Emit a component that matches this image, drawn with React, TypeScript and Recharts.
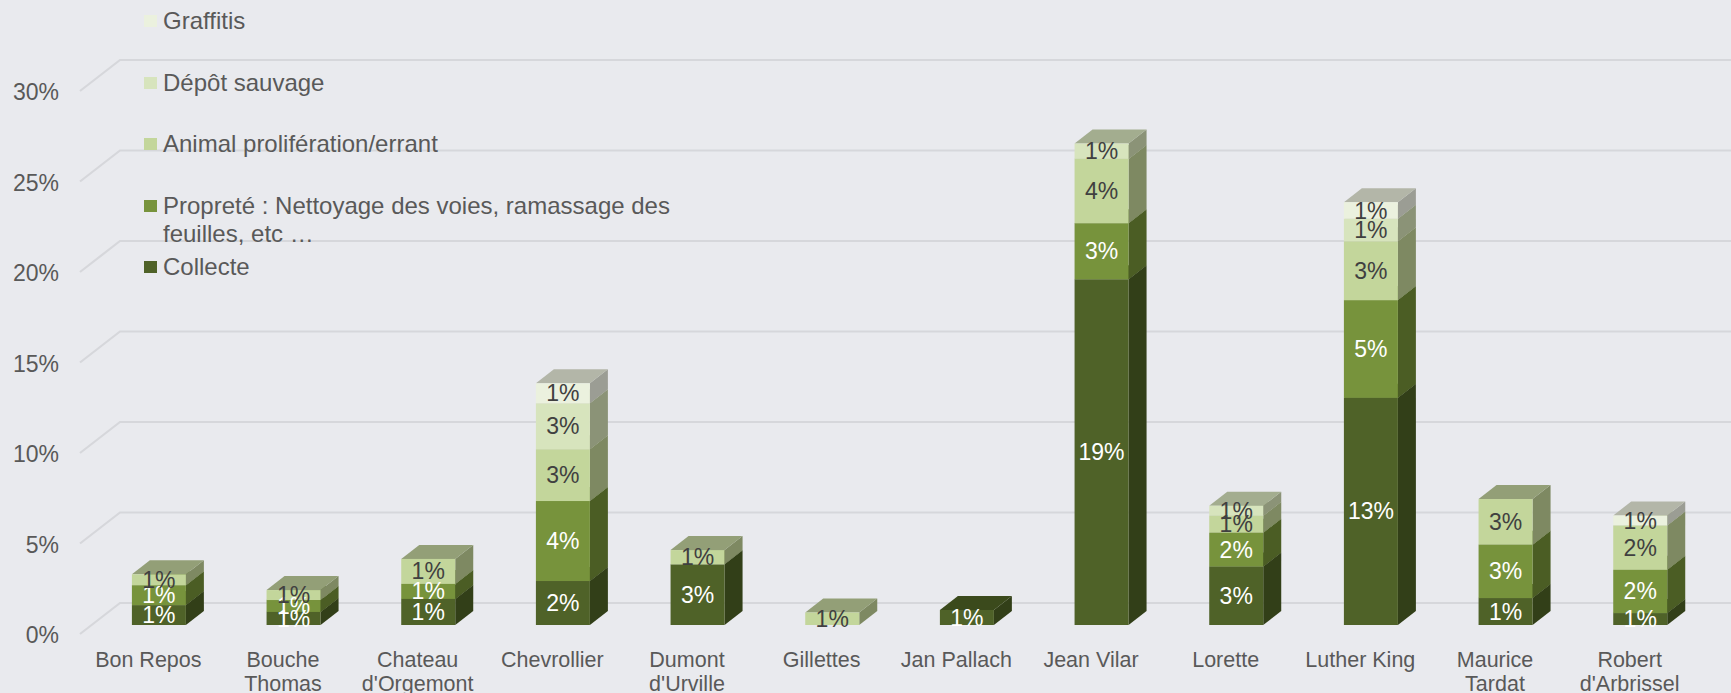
import React from "react";
import { BarChart, Bar, XAxis, YAxis, CartesianGrid, LabelList } from "recharts";

// ---------- data ----------
const categories = [
  "Bon Repos",
  "Bouche Thomas",
  "Chateau d'Orgemont",
  "Chevrollier",
  "Dumont d'Urville",
  "Gillettes",
  "Jan Pallach",
  "Jean Vilar",
  "Lorette",
  "Luther King",
  "Maurice Tardat",
  "Robert d'Arbrissel",
];

const collecte = [1.1, 0.72, 1.44, 2.43, 3.35, null, 0.83, 19.1, 3.23, 12.55, 1.49, 0.66];
const proprete = [1.1, 0.66, 0.83, 4.42, null, null, null, 3.1, 1.87, 5.4, 2.95, 2.39];
const animal = [0.6, 0.55, 1.38, 2.86, 0.79, 0.69, null, 3.55, 0.93, 3.25, 2.52, 2.45];
const depot = [null, null, null, 2.54, null, null, null, 0.85, 0.56, 1.24, null, null];
const graffitis = [null, null, null, 1.1, null, null, null, null, null, 0.92, null, 0.55];

const yTicks = [0, 5, 10, 15, 20, 25, 30];

const seriesNames = [
  "Collecte",
  "Propreté : Nettoyage des voies, ramassage des feuilles, etc …",
  "Animal prolifération/errant",
  "Dépôt sauvage",
  "Graffitis",
];
const seriesKeys = ["collecte", "proprete", "animal", "depot", "graffitis"];
const seriesValues = [collecte, proprete, animal, depot, graffitis];

const seriesStyle = [
  { front: "#4F6228", side: "#323F18", top: "#3B4A1C", label: "#FFFFFF" },
  { front: "#77933C", side: "#4B5D24", top: "#5D7430", label: "#FFFFFF" },
  { front: "#C3D69B", side: "#7E8962", top: "#939F77", label: "#404040" },
  { front: "#D7E4BD", side: "#8B9377", top: "#A3AD8F", label: "#404040" },
  { front: "#EBF1DE", side: "#9B9D94", top: "#B3B6A8", label: "#404040" },
];

const data = categories.map((name, i) => {
  const row: Record<string, any> = { name };
  seriesKeys.forEach((k, s) => {
    row[k] = seriesValues[s][i];
  });
  return row;
});

// ---------- 3D geometry ----------
const WALL_DX = 40;
const WALL_DY = 31;
const OFF_X = 11.5; // bar front face offset from front plane
const OFF_Y = 9;
const DEPTH_X = 18; // bar depth
const DEPTH_Y = 14;

const FONT = "'Liberation Sans', Arial, Helvetica, sans-serif";
const TEXT = "#595959";

const make3DShape = (s: number) => (props: any) => {
  const { x, y, width, height } = props;
  if (!height || height <= 0.01 || !width) return <g />;
  const st = seriesStyle[s];
  const fx = x + OFF_X;
  const fy = y - OFF_Y;
  const r = fx + width;
  const b = fy + height;
  const side = `M${r},${fy} L${r + DEPTH_X},${fy - DEPTH_Y} L${r + DEPTH_X},${b - DEPTH_Y} L${r},${b} Z`;
  const top = `M${fx},${fy} L${fx + DEPTH_X},${fy - DEPTH_Y} L${r + DEPTH_X},${fy - DEPTH_Y} L${r},${fy} Z`;
  return (
    <g>
      <path d={side} fill={st.side} />
      <path d={top} fill={st.top} />
      <rect x={fx} y={fy} width={width} height={height} fill={st.front} />
    </g>
  );
};

const makeLabel = (s: number) => (props: any) => {
  const { x, y, width, height, value } = props;
  if (value === null || value === undefined || !height || height <= 0.01) return null;
  return (
    <text
      x={x + width / 2 + OFF_X}
      y={y + height / 2 - OFF_Y}
      dy="0.35em"
      textAnchor="middle"
      fontSize={23}
      fontFamily={FONT}
      fill={seriesStyle[s].label}
    >
      {`${Math.round(value)}%`}
    </text>
  );
};

const gridLine = (props: any) => {
  const { x1, y1, x2, index } = props;
  const d = `M${x1},${y1} L${x1 + WALL_DX},${y1 - WALL_DY} L${x2 + WALL_DX},${y1 - WALL_DY}`;
  return <path key={`g-${index}-${y1}`} d={d} fill="none" stroke="#D6D7DB" strokeWidth={2.2} />;
};

const wrapLabel = (name: string): string[] => {
  if (name.length <= 11) return [name];
  const i = name.indexOf(" ");
  return [name.slice(0, i), name.slice(i + 1)];
};

const XTick = (props: any) => {
  const { x, y, payload } = props;
  const lines = wrapLabel(String(payload.value));
  return (
    <g>
      {lines.map((ln, i) => (
        <text
          key={i}
          x={x + 1}
          y={y + 25 + i * 24}
          dy="0.35em"
          textAnchor="middle"
          fontSize={21.5}
          fontFamily={FONT}
          fill={TEXT}
        >
          {ln}
        </text>
      ))}
    </g>
  );
};

const YTick = (props: any) => {
  const { y, payload } = props;
  return (
    <text x={59} y={y + 1} dy="0.35em" textAnchor="end" fontSize={23} fontFamily={FONT} fill={TEXT}>
      {`${payload.value}%`}
    </text>
  );
};

const LegendOverlay = () => {
  const items = seriesNames.map((n, i) => ({ name: n, color: seriesStyle[i].front })).reverse();
  return (
    <div style={{ position: "absolute", left: 0, top: 0, pointerEvents: "none" }}>
      {items.map((it, i) => {
        const cy = 21 + i * 61.5;
        return (
          <div key={it.name}>
            <div
              style={{
                position: "absolute",
                left: 144,
                top: cy - 6,
                width: 13,
                height: 12,
                background: it.color,
              }}
            />
            <div
              style={{
                position: "absolute",
                left: 163,
                top: cy - 14,
                width: 520,
                fontSize: 24,
                lineHeight: "28px",
                fontFamily: FONT,
                color: TEXT,
                whiteSpace: "normal",
              }}
            >
              {it.name}
            </div>
          </div>
        );
      })}
    </div>
  );
};

export default function App() {
  return (
    <div
      style={{
        position: "absolute",
        left: 0,
        top: 0,
        width: 1731,
        height: 693,
        background: "#E9EAEE",
        overflow: "hidden",
        fontFamily: FONT,
      }}
    >
      <BarChart
        width={1731}
        height={693}
        data={data}
        margin={{ top: 91, right: 35, left: 0, bottom: 0 }}
        barCategoryGap="30%"
      >
        <CartesianGrid vertical={false} horizontal={gridLine} />
        <XAxis
          dataKey="name"
          interval={0}
          height={59}
          axisLine={false}
          tickLine={false}
          tickSize={0}
          tickMargin={0}
          tick={<XTick />}
        />
        <YAxis
          type="number"
          domain={[0, 30]}
          ticks={yTicks}
          width={80}
          axisLine={false}
          tickLine={false}
          tick={<YTick />}
          allowDataOverflow
        />
        {seriesKeys.map((k, s) => (
          <Bar
            key={k}
            dataKey={k}
            name={seriesNames[s]}
            stackId="a"
            fill={seriesStyle[s].front}
            shape={make3DShape(s)}
            isAnimationActive={false}
          >
            <LabelList dataKey={k} content={makeLabel(s)} />
          </Bar>
        ))}
      </BarChart>
      <LegendOverlay />
    </div>
  );
}
